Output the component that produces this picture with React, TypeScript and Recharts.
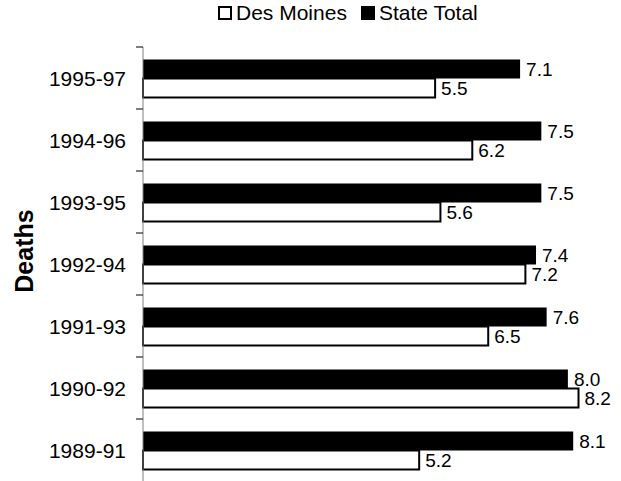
import { Bar, BarChart, LabelList, Legend, XAxis, YAxis } from "recharts";

const periods = ["1995-97", "1994-96", "1993-95", "1992-94", "1991-93", "1990-92", "1989-91"];
const stateTotal = [7.1, 7.5, 7.5, 7.4, 7.6, 8.0, 8.1];
const desMoines = [5.5, 6.2, 5.6, 7.2, 6.5, 8.2, 5.2];

const data = periods.map((period, i) => ({
  period,
  stateTotal: stateTotal[i],
  desMoines: desMoines[i],
}));

const FONT = "'Liberation Sans', Arial, sans-serif";
const W = 621;
const H = 481;
const TOP = 47;
const BAND = (H - TOP) / periods.length;

// label at the category centre, tick mark at the category boundary
function PeriodTick(props: any) {
  const { x, y, payload } = props;
  return (
    <g>
      <line x1={x + 10} x2={x + 17} y1={y - BAND / 2} y2={y - BAND / 2} stroke="#000" />
      <text
        x={x}
        y={y}
        textAnchor="end"
        dominantBaseline="central"
        fontSize={21}
        fontFamily={FONT}
        fill="#000"
      >
        {payload.value}
      </text>
    </g>
  );
}

function DeathsLabel() {
  return (
    <text
      transform="translate(24, 251) rotate(-90)"
      textAnchor="middle"
      dominantBaseline="central"
      fontSize={25}
      fontWeight="bold"
      fontFamily={FONT}
      fill="#000"
    >
      Deaths
    </text>
  );
}

function LegendContent() {
  return (
    <div
      style={{
        display: "flex",
        alignItems: "center",
        fontSize: 21,
        fontFamily: FONT,
        whiteSpace: "nowrap",
        lineHeight: "22px",
        color: "#000",
      }}
    >
      <span
        style={{
          width: 14,
          height: 14,
          boxSizing: "border-box",
          border: "2px solid #000",
          background: "#fff",
          marginRight: 4,
        }}
      />
      <span>Des Moines</span>
      <span style={{ width: 14, height: 14, background: "#000", marginLeft: 14, marginRight: 4 }} />
      <span>State Total</span>
    </div>
  );
}

export default function App() {
  return (
    <div style={{ position: "absolute", left: 0, top: 0, fontFamily: FONT }}>
      <BarChart
        width={W}
        height={H}
        data={data}
        layout="vertical"
        margin={{ top: TOP, right: 0, bottom: 0, left: 0 }}
        barCategoryGap="20%"
        barGap={0}
      >
        <XAxis type="number" domain={[0, 9]} hide />
        <YAxis
          type="category"
          dataKey="period"
          width={143}
          axisLine={{ stroke: "#808080", strokeWidth: 1 }}
          tickLine={false}
          tickSize={0}
          tickMargin={17}
          tick={<PeriodTick />}
          interval={0}
          label={<DeathsLabel />}
        />
        <Legend
          layout="vertical"
          align="center"
          verticalAlign="middle"
          wrapperStyle={{ left: 218, top: 2 }}
          content={<LegendContent />}
        />
        <Bar dataKey="stateTotal" name="State Total" fill="#000" isAnimationActive={false}>
          <LabelList
            dataKey="stateTotal"
            position="right"
            offset={6}
            formatter={(v: any) => Number(v).toFixed(1)}
            style={{ fontSize: 19, fontFamily: FONT, fill: "#000" }}
          />
        </Bar>
        <Bar
          dataKey="desMoines"
          name="Des Moines"
          fill="#fff"
          stroke="#000"
          strokeWidth={2}
          isAnimationActive={false}
        >
          <LabelList
            dataKey="desMoines"
            position="right"
            offset={6}
            formatter={(v: any) => Number(v).toFixed(1)}
            style={{ fontSize: 19, fontFamily: FONT, fill: "#000" }}
          />
        </Bar>
      </BarChart>
    </div>
  );
}
